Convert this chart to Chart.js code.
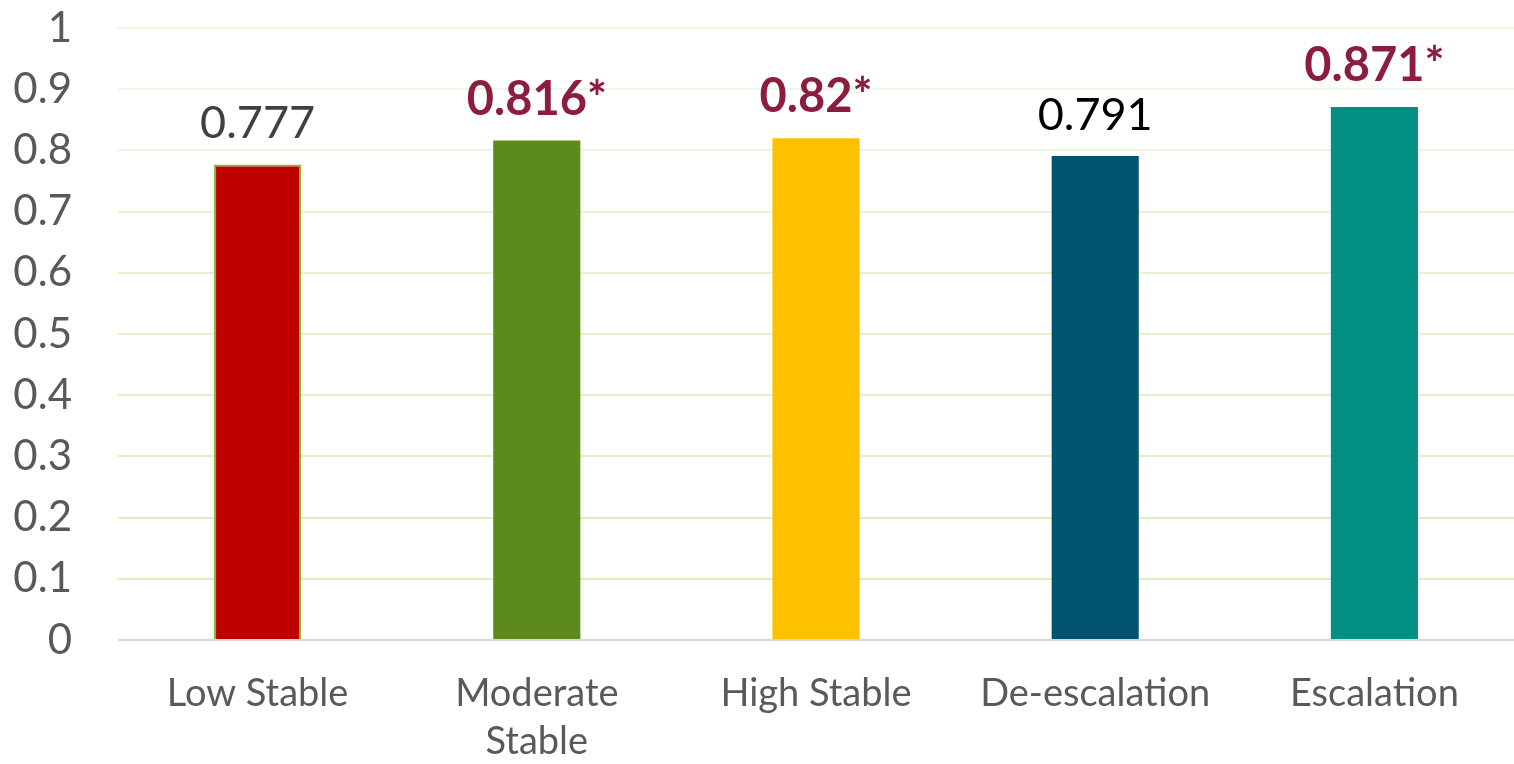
<!DOCTYPE html>
<html>
<head>
<meta charset="utf-8">
<title>Trajectory groups</title>
<script src="https://cdn.jsdelivr.net/npm/chart.js@4/dist/chart.umd.min.js"></script>
<style>
  html, body { margin: 0; padding: 0; background: #fff; }
  #group-chart { display: block; }
</style>
</head>
<body>
<canvas id="group-chart" width="1514" height="764"></canvas>
<script>
 /*-------------------
 Data
 -------------------*/
 const groups = ['Low Stable', ['Moderate', 'Stable'], 'High Stable', 'De-escalation', 'Escalation'];
 const values = [0.777, 0.816, 0.82, 0.791, 0.871];
 // groups marked with an asterisk
 const significant = [false, true, true, false, true];
 const yTicks = [0, 0.1, 0.2, 0.3, 0.4, 0.5, 0.6, 0.7, 0.8, 0.9, 1];

 const fontFamily = 'Lato, "Open Sans", sans-serif';

 // ----------- Value labels above the bars ------------
 const valueLabels = {
   id: 'valueLabels',
   afterDatasetsDraw(chart) {
     const ctx = chart.ctx;
     const meta = chart.getDatasetMeta(0);
     const plainColors = ['#404040', '#404040', '#404040', '#000000', '#404040'];
     ctx.save();
     ctx.textAlign = 'center';
     ctx.textBaseline = 'alphabetic';
     meta.data.forEach((bar, i) => {
       if (significant[i]) {
         ctx.font = `bold 47px ${fontFamily}`;
         ctx.fillStyle = '#8c1c40';
         ctx.fillText(values[i] + '*', bar.x, bar.y - 26);
       } else {
         ctx.font = `45px ${fontFamily}`;
         ctx.fillStyle = plainColors[i];
         ctx.fillText(String(values[i]), bar.x, bar.y - 26);
       }
     });
     ctx.restore();
   }
 };

 // grid lines fade out towards the top of the plot
 function gridColor(ctx) {
   const v = ctx.tick ? ctx.tick.value : 0;
   if (v === 0) return '#d9d9d9';
   const r = Math.round(214 + (238 - 214) * v);
   const g = Math.round(239 + (248 - 239) * v);
   const b = Math.round(182 + (228 - 182) * v);
   return `rgb(${r}, ${g}, ${b})`;
 }

 const groupCanvas = document.getElementById('group-chart');

 let groupChart = new Chart(groupCanvas, {
   type: 'bar',
   data: {
     labels: groups,
     datasets: [{
       data: values,
       backgroundColor: ['#c00000', '#5c8b1b', '#ffc000', '#00546f', '#039083'],
       borderColor: ['#7cbd2c', 'transparent', 'transparent', 'transparent', 'transparent'],
       borderWidth: [2, 0, 0, 0, 0],
       barPercentage: 0.312,
       categoryPercentage: 1
     }]
   },
   options: {
     responsive: false,
     animation: false,
     layout: { padding: 0 },
     plugins: {
       legend: { display: false },
       tooltip: { enabled: false }
     },
     scales: {
       x: {
         grid: { display: false, drawTicks: false },
         border: { display: false },
         ticks: {
           color: '#595959',
           padding: 30,
           font: { family: fontFamily, size: 38, lineHeight: 1.25 }
         },
         afterFit: (scale) => { scale.height = 124; }
       },
       y: {
         min: 0,
         max: 1,
         afterBuildTicks: (scale) => { scale.ticks = yTicks.map(v => ({ value: v })); },
         grid: { color: gridColor, lineWidth: 2, drawTicks: false },
         border: { display: false },
         ticks: {
           color: '#595959',
           padding: 46,
           font: { family: fontFamily, size: 42 },
           callback: (v) => String(v)
         },
         // the tick padding only pushes the labels sideways, not the plot down
         afterFit: (scale) => {
           scale.width = 118;
           scale.paddingTop = 28;
           scale.paddingBottom = 25;
         }
       }
     }
   },
   plugins: [valueLabels]
 });
</script>
</body>
</html>
